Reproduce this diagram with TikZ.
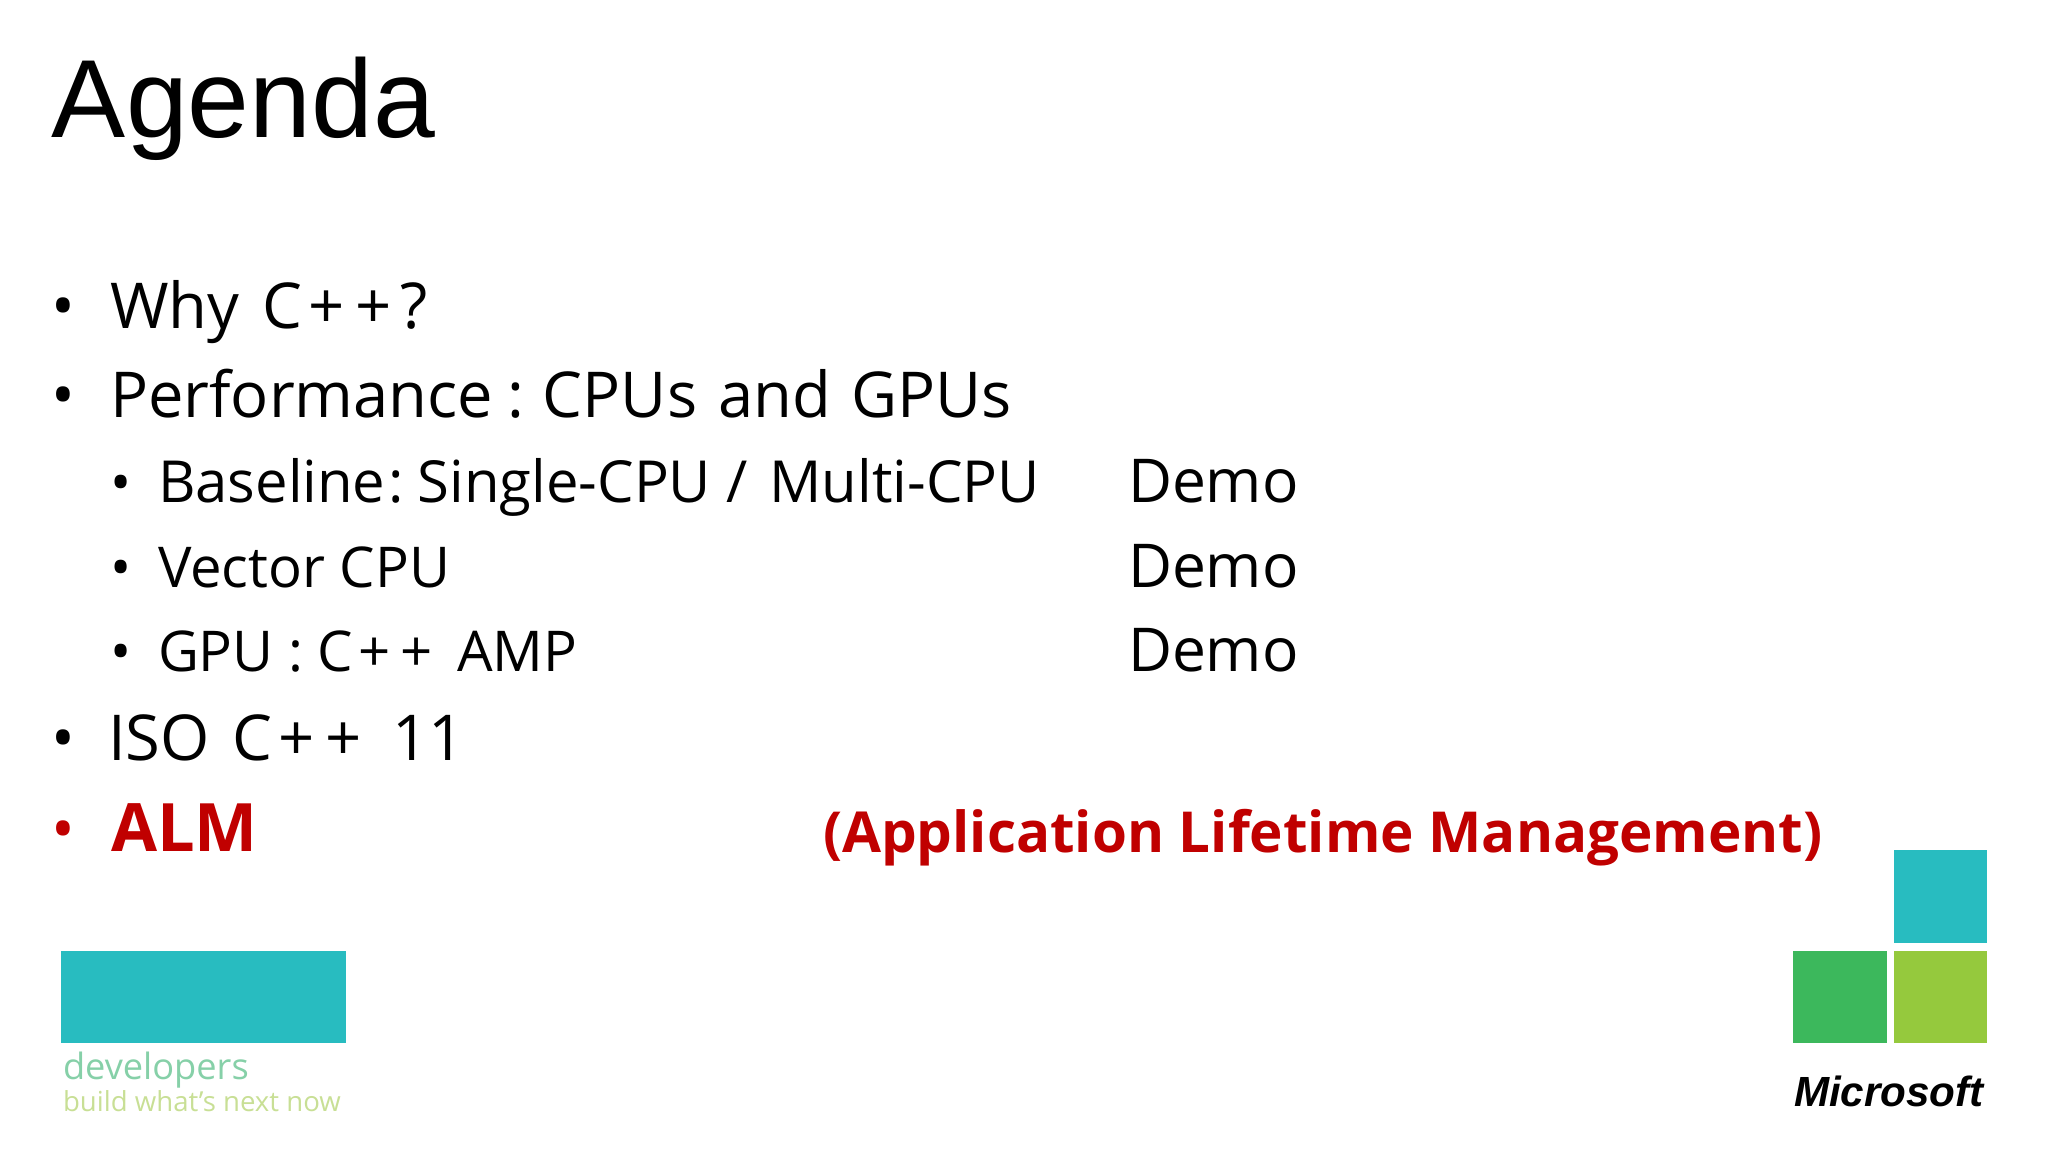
\documentclass[tikz,border=0pt]{standalone}
\usepackage{fontspec}
\setmainfont{Open Sans}
\newfontfamily\titlefont{Liberation Sans}
\definecolor{almred}{HTML}{C00000}
\definecolor{squareteal}{HTML}{28BCC0}
\definecolor{squaregreen}{HTML}{3CB85C}
\definecolor{squarelime}{HTML}{95C93D}
\definecolor{devgreen}{HTML}{86D0A8}
\definecolor{buildgreen}{HTML}{C8DF95}
\newcommand{\cpp}{C\kern.1em+\kern.17em+\kern.1em}
\tikzset{
    txt/.style={anchor=base west, inner sep=0pt, outer sep=0pt},
    item/.style={txt, font=\fontsize{18}{18}\selectfont},
    subitem/.style={txt, font=\fontsize{16}{16}\selectfont},
    demotxt/.style={txt, font=\fontsize{17.2}{17.2}\selectfont},
    alm/.style={txt, text=almred, font=\fontsize{19}{19}\selectfont\bfseries},
}

\begin{document}
\begin{tikzpicture}
        \useasboundingbox (0, 0) rectangle (20.48, 11.52);
        \node [txt, font=\fontsize{31.6}{31.6}\selectfont\titlefont] (title) at (0.52, 10.14) {Agenda};
        % top level
        \node [item] (bwhy) at (0.52, 8.23) {•};
        \node [item] (why) at (1.1, 8.23) {Why\kern.1em\ \cpp\kern.04em?};
        \node [item] (bperf) at (0.52, 7.34) {•};
        \node [item] (perf) at (1.1, 7.34) {Performance\kern-.03em\ :\kern.03em\ CPUs\kern.07em\ and\kern.07em\ GPUs};
        % second level
        \node [subitem] (bbase) at (1.1, 6.49) {•};
        \node [subitem, font=\fontsize{16.5}{16.5}\selectfont] (base) at (1.58, 6.49)
            {Baseline\kern-.2em\ :\kern-.03em\ Single-CPU /\kern.12em\ Multi-CPU};
        \node [demotxt] (demoa) at (11.28, 6.49) {Demo};
        \node [subitem] (bvec) at (1.1, 5.64) {•};
        \node [subitem] (vec) at (1.58, 5.64) {Vector CPU};
        \node [demotxt] (demob) at (11.28, 5.64) {Demo};
        \node [subitem] (bgpu) at (1.1, 4.8) {•};
        \node [subitem] (gpu) at (1.58, 4.8) {GPU : \cpp\kern.07em\ AMP};
        \node [demotxt] (democ) at (11.28, 4.8) {Demo};
        \node [item] (biso) at (0.52, 3.91) {•};
        \node [item] (iso) at (1.08, 3.91) {ISO\kern.1em\ \cpp\kern.13em\ 11};
        \node [item, text=almred] (balm) at (0.52, 3.0) {•};
        \node [alm] (almtxt) at (1.11, 3.0) {ALM};
        \node [alm, font=\fontsize{16.08}{16.08}\selectfont\bfseries] (almlong) at (8.23, 2.99)
            {(Application Lifetime Management)};
        % developers logo
        \path [fill=squareteal] (0.61, 1.09) rectangle (3.46, 2.01);
        \node [txt, text=devgreen, font=\fontsize{10.3}{10.3}\selectfont] (dev) at (0.63, 0.72) {developers};
        \node [txt, text=buildgreen, font=\fontsize{7.85}{7.85}\selectfont] (build) at (0.63, 0.4) {build what's next now};
        % squares
        \path [fill=squareteal] (18.94, 2.09) rectangle (19.87, 3.02);
        \path [fill=squaregreen] (17.93, 1.09) rectangle (18.87, 2.01);
        \path [fill=squarelime] (18.94, 1.09) rectangle (19.87, 2.01);
        \node [txt, font=\fontsize{12}{12}\selectfont\titlefont\bfseries\itshape] (ms) at (17.94, 0.45) {Microsoft};
    \end{tikzpicture}
\end{document}
